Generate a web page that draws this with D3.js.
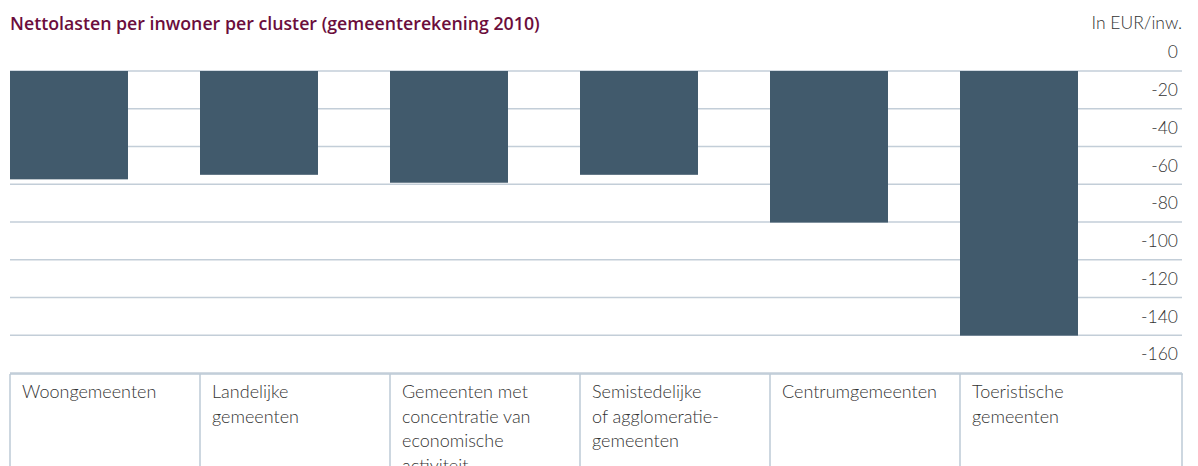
<!DOCTYPE html>
<html>
<head>
<meta charset="utf-8">
<script src="https://d3js.org/d3.v7.min.js"></script>
<style>
body { margin: 0; background: #fff; }
svg { display: block; }
.title { font-family: "Open Sans", sans-serif; font-weight: 600; font-size: 17.75px; fill: #6b0d3c; }
.unit, .tick-label { font-family: Lato, sans-serif; font-weight: 300; font-size: 17.5px; fill: #333; }
.cat { font-family: Lato, sans-serif; font-weight: 300; font-size: 18px; fill: #333; }
</style>
</head>
<body>
<script>

// data
var categories = ["Woongemeenten", "Landelijke gemeenten", "Gemeenten met concentratie van economische activiteit",
  "Semistedelijke of agglomeratiegemeenten", "Centrumgemeenten", "Toeristische gemeenten"];
var labelLines = [
  ["Woongemeenten"],
  ["Landelijke", "gemeenten"],
  ["Gemeenten met", "concentratie van", "economische", "activiteit"],
  ["Semistedelijke", "of agglomeratie-", "gemeenten"],
  ["Centrumgemeenten"],
  ["Toeristische", "gemeenten"]
];
var values = [-57.4, -55, -59.2, -55, -80.3, -140.2];
var tickValues = [0, -20, -40, -60, -80, -100, -120, -140, -160];

var W = 1198, H = 466;
var left = 10, right = 1182, top0 = 71, bottom0 = 373;

var svg = d3.select("body").append("svg").attr("width", W).attr("height", H);

svg.append("text").attr("class", "title").attr("x", 10).attr("y", 30)
  .text("Nettolasten per inwoner per cluster (gemeenterekening 2010)");

svg.append("text").attr("class", "unit").attr("x", right).attr("y", 29)
  .attr("text-anchor", "end").text("In EUR/inw.");

var y = d3.scaleLinear().domain([0, -160]).range([top0, bottom0]);
var x = d3.scaleBand().domain(categories).range([left, left + 6 * 190]).padding(0);
var step = y(0) - y(20);

// gridlines
svg.append("g").selectAll("line").data(tickValues).join("line")
  .attr("x1", left).attr("x2", right)
  .attr("y1", function(d) { return y(d); }).attr("y2", function(d) { return y(d); })
  .attr("stroke", "#c3ced8").attr("stroke-width", 1.5);

// tick labels sit in the band above their line
svg.append("g").selectAll("text").data(tickValues).join("text")
  .attr("class", "tick-label")
  .attr("x", 1178)
  .attr("y", function(d) { return y(d) - step / 2; })
  .attr("dy", "0.35em")
  .attr("text-anchor", "end")
  .text(function(d) { return d; });

// bars
svg.append("g").selectAll("rect").data(values).join("rect")
  .attr("x", function(d, i) { return x(categories[i]); })
  .attr("y", y(0))
  .attr("width", x.bandwidth() * 0.621)
  .attr("height", function(d) { return y(d) - y(0); })
  .attr("fill", "#415a6c");

// category table
var tableTop = 374;
var cols = categories.map(function(c) { return x(c); }).concat([right]);
svg.append("line").attr("x1", left).attr("x2", right + 1)
  .attr("y1", tableTop).attr("y2", tableTop)
  .attr("stroke", "#bccad6").attr("stroke-width", 1.5);
svg.append("g").selectAll("line").data(cols).join("line")
  .attr("x1", function(d) { return d; }).attr("x2", function(d) { return d; })
  .attr("y1", tableTop).attr("y2", H)
  .attr("stroke", "#bccad6").attr("stroke-width", 1.5);

var cells = svg.append("g").selectAll("text").data(labelLines).join("text")
  .attr("class", "cat")
  .attr("x", function(d, i) { return x(categories[i]) + 12; })
  .attr("y", 398);
cells.selectAll("tspan").data(function(d) { return d; }).join("tspan")
  .attr("x", function() { return d3.select(this.parentNode).attr("x"); })
  .attr("dy", function(d, i) { return i === 0 ? 0 : 24.5; })
  .text(function(d) { return d; });

</script>
</body>
</html>
